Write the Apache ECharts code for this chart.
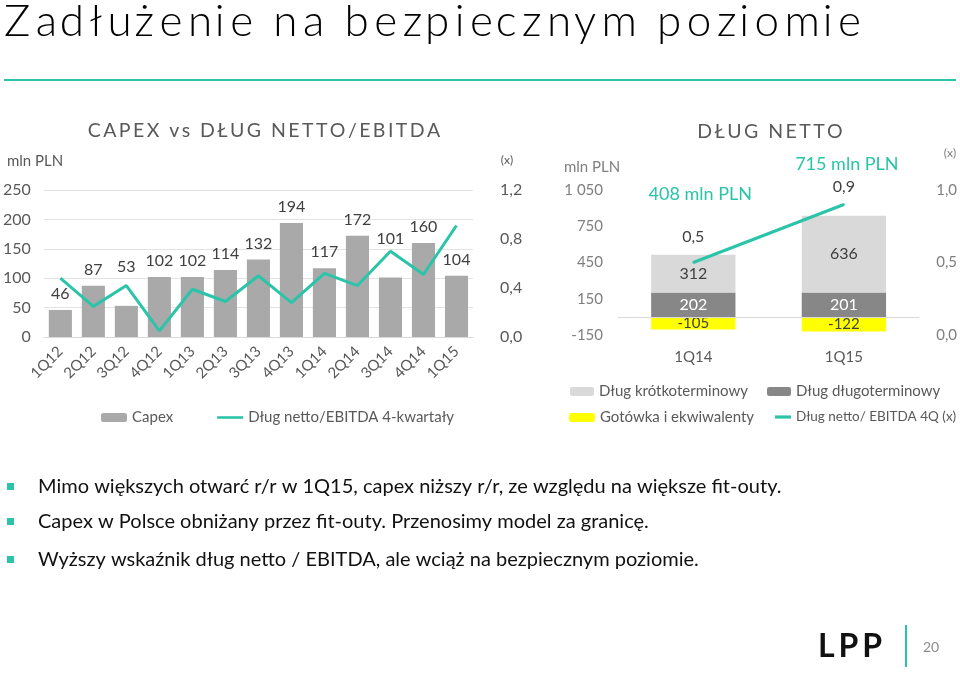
<!DOCTYPE html>
<html>
<head>
<meta charset="utf-8">
<script src="https://cdn.jsdelivr.net/npm/echarts@6/dist/echarts.min.js"></script>
<style>
html,body{margin:0;padding:0;background:#fff;}
#main{width:960px;height:673px;}
</style>
</head>
<body>
<div id="main"></div>
<script>
// ---- data ----
const capexCats = ['1Q12','2Q12','3Q12','4Q12','1Q13','2Q13','3Q13','4Q13','1Q14','2Q14','3Q14','4Q14','1Q15'];
const capexValues = [46, 87, 53, 102, 102, 114, 132, 194, 117, 172, 101, 160, 104];
const capexDebtRatio = [0.48, 0.25, 0.42, 0.05, 0.39, 0.29, 0.50, 0.28, 0.52, 0.42, 0.70, 0.51, 0.91];
const leftTicksMln = [0, 250, 50];
const leftTicksX = [0, 1.2, 0.4];

const debtCats = ['1Q14', '1Q15'];
const shortTermDebt = [312, 636];
const longTermDebt = [202, 201];
const cashValues = [-105, -122];
const debtRatio = [0.5, 0.9];
const netDebtTotals = [408, 715];
const rightTicksMln = [-150, 1050, 300];
const rightTicksX = [0, 1.0, 0.5];

const bullets = [
  'Mimo większych otwarć r/r w 1Q15, capex niższy r/r, ze względu na większe fit-outy.',
  'Capex w Polsce obniżany przez fit-outy. Przenosimy model za granicę.',
  'Wyższy wskaźnik dług netto / EBITDA, ale wciąż na bezpiecznym poziomie.'
];

// ---- styles ----
const FONT = 'Lato, "Open Sans", sans-serif';
const TEAL = '#2bc4a8';
const GREY_TXT = '#595959';
const labelLift = {2: 23, 10: 23};
const ratioLabelDist = [17, 9];
const annotOffset = [[7, -68], [3, -40]];
const LINE_ICON = 'path://M0,0H30V3H0Z';
const LINE_ICON_SHORT = 'path://M0,0H15V3H0Z';

const comma = (v, d) => v.toFixed(d).replace('.', ',');
const spaced = (s, ch) => s.split('').join(ch);
const spacedMix = s => s.split('').map((c, i) => i === 0 ? c : ((i % 3 === 2) ? '\u200A' : '\u2009') + c).join('');

const legendItem = (name, left, top, extra) => Object.assign({
  data: [name], left: left, top: top, itemWidth: 24, itemHeight: 9, itemGap: 5, padding: 0,
  textStyle: {fontSize: 15, color: GREY_TXT, fontFamily: FONT}
}, extra || {});

const chart = echarts.init(document.getElementById('main'), null, {renderer: 'canvas'});

const option = {
  backgroundColor: '#fff',
  textStyle: {fontFamily: FONT},
  animation: false,
  title: [
    {text: spaced('CAPEX vs DŁUG NETTO/EBITDA', '\u2009'), left: 259, top: 116, textAlign: 'center',
     textStyle: {fontSize: 19.5, fontWeight: 'normal', color: GREY_TXT, fontFamily: FONT}},
    {text: spaced('DŁUG NETTO', '\u2009'), left: 765, top: 117, textAlign: 'center',
     textStyle: {fontSize: 19.5, fontWeight: 'normal', color: GREY_TXT, fontFamily: FONT}}
  ],
  grid: [
    {left: 40, top: 190, width: 433, height: 147},
    {left: 618, top: 190, width: 302, height: 145}
  ],
  legend: [
    {data: ['Capex', {name: 'Dług netto/EBITDA 4-kwartały', icon: LINE_ICON}], left: 101, top: 410,
     itemWidth: 26, itemHeight: 9, itemGap: 44, padding: 0,
     textStyle: {fontSize: 15, color: GREY_TXT, fontFamily: FONT}},
    legendItem('Dług krótkoterminowy', 570, 384),
    legendItem('Dług długoterminowy', 767, 384),
    legendItem('Gotówka i ekwiwalenty', 569, 410, {itemWidth: 26}),
    legendItem({name: 'Dług netto/ EBITDA 4Q (x)', icon: LINE_ICON_SHORT}, 775, 410,
      {itemWidth: 16, textStyle: {fontSize: 13.5, color: GREY_TXT, fontFamily: FONT}})
  ],
  xAxis: [
    {type: 'category', gridIndex: 0, data: capexCats, axisTick: {show: false},
     axisLine: {lineStyle: {color: '#d9d9d9'}},
     axisLabel: {rotate: 45, interval: 0, fontSize: 15, color: GREY_TXT, margin: 12}},
    {type: 'category', gridIndex: 1, data: debtCats, axisTick: {show: false},
     axisLine: {show: false, onZero: false},
     axisLabel: {fontSize: 15, color: GREY_TXT, margin: 15}}
  ],
  yAxis: [
    {type: 'value', gridIndex: 0, min: leftTicksMln[0], max: leftTicksMln[1], interval: leftTicksMln[2],
     splitLine: {lineStyle: {color: '#e3e3e3'}}, axisLine: {show: false}, axisTick: {show: false},
     axisLabel: {fontSize: 16, color: GREY_TXT, margin: 13}},
    {type: 'value', gridIndex: 0, position: 'right', min: leftTicksX[0], max: leftTicksX[1], interval: leftTicksX[2],
     splitLine: {show: false}, axisLine: {show: false}, axisTick: {show: false},
     axisLabel: {fontSize: 16, color: GREY_TXT, margin: 27, formatter: v => comma(v, 1)}},
    {type: 'value', gridIndex: 1, min: rightTicksMln[0], max: rightTicksMln[1], interval: rightTicksMln[2],
     splitLine: {show: false}, axisLine: {show: false}, axisTick: {show: false},
     axisLabel: {fontSize: 15, color: '#7f7f7f', margin: 15,
       formatter: v => String(v).replace(/\B(?=(\d{3})+(?!\d))/g, ' ')}},
    {type: 'value', gridIndex: 1, position: 'right', min: rightTicksX[0], max: rightTicksX[1], interval: rightTicksX[2],
     splitLine: {show: false}, axisLine: {show: false}, axisTick: {show: false},
     axisLabel: {fontSize: 15, color: '#7f7f7f', margin: 17, formatter: v => comma(v, 1)}}
  ],
  series: [
    {name: 'Capex', type: 'bar', xAxisIndex: 0, yAxisIndex: 0, barCategoryGap: '30%',
     itemStyle: {color: '#a9a9a9'},
     data: capexValues.map((v, i) => labelLift[i] ? {value: v, label: {distance: 8 + labelLift[i]}} : v),
     label: {show: true, position: 'top', distance: 8, fontSize: 16, color: '#404040', fontFamily: FONT}},
    {name: 'Dług netto/EBITDA 4-kwartały', type: 'line', xAxisIndex: 0, yAxisIndex: 1, data: capexDebtRatio,
     symbol: 'none', lineStyle: {color: TEAL, width: 3}, itemStyle: {color: TEAL}},
    {name: 'Dług długoterminowy', type: 'bar', xAxisIndex: 1, yAxisIndex: 2, stack: 'debt', barCategoryGap: '44%',
     itemStyle: {color: '#878787'}, data: longTermDebt,
     label: {show: true, position: 'inside', fontSize: 16, color: '#fff', fontFamily: FONT},
     markLine: {silent: true, symbol: 'none', label: {show: false}, lineStyle: {color: '#d9d9d9', type: 'solid', width: 1},
       data: [{yAxis: 0}]}},
    {name: 'Dług krótkoterminowy', type: 'bar', xAxisIndex: 1, yAxisIndex: 2, stack: 'debt', barCategoryGap: '44%',
     itemStyle: {color: '#d9d9d9'}, data: shortTermDebt,
     label: {show: true, position: 'inside', fontSize: 16, color: '#404040', fontFamily: FONT}},
    {name: 'Gotówka i ekwiwalenty', type: 'bar', xAxisIndex: 1, yAxisIndex: 2, stack: 'debt', barCategoryGap: '44%',
     itemStyle: {color: '#ffff00'}, data: cashValues,
     label: {show: true, position: 'inside', fontSize: 15, color: '#404040', fontFamily: FONT}},
    {name: 'Dług netto/ EBITDA 4Q (x)', type: 'line', xAxisIndex: 1, yAxisIndex: 3,
     symbol: 'circle', symbolSize: 2, showSymbol: true,
     lineStyle: {color: TEAL, width: 3}, itemStyle: {color: TEAL},
     data: debtRatio.map((v, i) => ({value: v, label: {distance: ratioLabelDist[i]}})),
     label: {show: true, position: 'top', fontSize: 16, color: '#404040', fontFamily: FONT, formatter: p => comma(p.value, 1)},
     markPoint: {symbol: 'circle', symbolSize: 1, itemStyle: {color: 'rgba(0,0,0,0)'}, silent: true,
       label: {show: true, position: 'inside', color: TEAL, fontSize: 18, fontFamily: FONT, formatter: p => p.value + ' mln PLN'},
       data: netDebtTotals.map((v, i) => ({coord: [debtCats[i], debtRatio[i]], value: v, label: {offset: annotOffset[i]}}))}}
  ],
  graphic: [
    {type: 'text', left: 4, top: 0, style: {text: spacedMix('Zadłużenie na bezpiecznym poziomie'), font: '300 44px ' + FONT, fill: '#000'}},
    {type: 'rect', shape: {x: 4, y: 79, width: 952, height: 2}, style: {fill: TEAL}},
    {type: 'text', x: 35, y: 161, style: {text: 'mln PLN', font: '15px ' + FONT, fill: GREY_TXT, align: 'center', verticalAlign: 'middle'}},
    {type: 'text', x: 507, y: 160, style: {text: '(x)', font: '12px ' + FONT, fill: GREY_TXT, align: 'center', verticalAlign: 'middle'}},
    {type: 'text', x: 592, y: 167, style: {text: 'mln PLN', font: '15px ' + FONT, fill: '#7f7f7f', align: 'center', verticalAlign: 'middle'}},
    {type: 'text', x: 950, y: 153, style: {text: '(x)', font: '12px ' + FONT, fill: '#7f7f7f', align: 'center', verticalAlign: 'middle'}},
    ...bullets.flatMap((t, i) => {
      const y = [487, 522, 560][i];
      return [
        {type: 'rect', shape: {x: 7, y: y - 4, width: 7, height: 7}, style: {fill: TEAL}},
        {type: 'text', x: 38, y: y, style: {text: t, font: '20px ' + FONT, fill: '#111', verticalAlign: 'middle'}}
      ];
    }),
    {type: 'text', x: 850, y: 647, style: {text: spaced('LPP', '\u2009'), font: 'bold 32px ' + FONT, fill: '#111', align: 'center', verticalAlign: 'middle'}},
    {type: 'rect', shape: {x: 905, y: 625, width: 2, height: 42}, style: {fill: TEAL}},
    {type: 'text', x: 931, y: 647, style: {text: '20', font: '14px ' + FONT, fill: '#8c8c8c', align: 'center', verticalAlign: 'middle'}}
  ]
};
chart.setOption(option);
</script>
</body>
</html>
